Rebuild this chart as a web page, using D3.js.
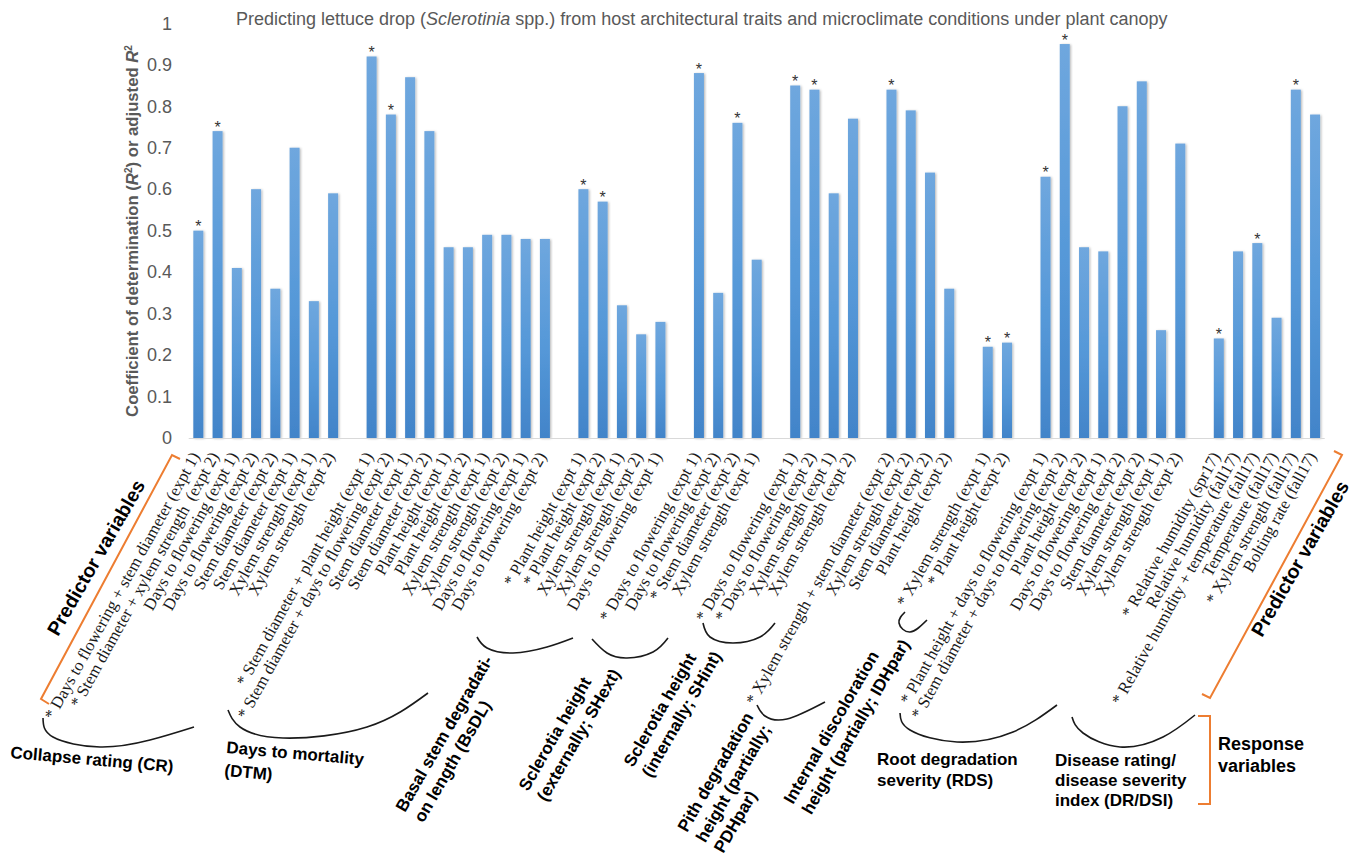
<!DOCTYPE html>
<html>
<head>
<meta charset="utf-8">
<script src="https://cdn.jsdelivr.net/npm/d3@7"></script>
<style>
  body { margin: 0; background: #fff; }
  svg { display: block; }
</style>
</head>
<body>
<svg id="chart" width="1355" height="855"></svg>
<script>
// Predictor variables per model set (a leading "* " marks a significant model)
const predictorSets = [
  ["* Days to flowering + stem diameter (expt 1)", "* Stem diameter + xylem strength  (expt 2)",
   "Days to flowering (expt 1)", "Days to flowering (expt 2)", "Stem diameter (expt 2)",
   "Stem diameter (expt 1)", "Xylem strength (expt 1)", "Xylem strength (expt 2)"],
  ["* Stem diameter + plant height (expt 1)", "* Stem diameter + days to flowering (expt 2)",
   "Stem diameter (expt 1)", "Stem diameter (expt 2)", "Plant height (expt 1)", "Plant height (expt 2)",
   "Xylem strength (expt 1)", "Xylem strength (expt 2)", "Days to flowering (expt 1)", "Days to flowering (expt 2)"],
  ["* Plant height (expt 1)", "* Plant height (expt 2)", "Xylem strength (expt 1)",
   "Xylem strength (expt 2)", "Days to flowering (expt 1)"],
  ["* Days to flowering (expt 1)", "Days to flowering (expt 2)", "* Stem diameter (expt 2)",
   "Xylem strength (expt 1)"],
  ["* Days to flowering (expt 1)", "* Days to flowering (expt 2)", "Xylem strength (expt 1)",
   "Xylem strength (expt 2)"],
  ["* Xylem strength + stem diameter (expt 2)", "Xylem strength (expt 2)", "Stem diameter (expt 2)",
   "Plant height (expt 2)"],
  ["* Xylem strength (expt 1)", "* Plant height (expt 2)"],
  ["* Plant height + days to flowering (expt 1)", "* Stem diameter + days to flowering (expt 2)",
   "Plant height (expt 2)", "Days to flowering (expt 1)", "Days to flowering (expt 2)",
   "Stem diameter (expt 2)", "Xylem strength (expt 1)", "Xylem strength (expt 2)"],
  ["* Relative humidity (spr17)", "Relative humidity (fall17)",
   "* Relative humidity + temperature (fall17)", "Temperature (fall17)",
   "* Xylem strength (fall17)", "Bolting rate (fall17)"]
];

// Coefficient of determination (R² or adjusted R²) per model
const rSquared = [
  [0.50, 0.74, 0.41, 0.60, 0.36, 0.70, 0.33, 0.59],
  [0.92, 0.78, 0.87, 0.74, 0.46, 0.46, 0.49, 0.49, 0.48, 0.48],
  [0.60, 0.57, 0.32, 0.25, 0.28],
  [0.88, 0.35, 0.76, 0.43],
  [0.85, 0.84, 0.59, 0.77],
  [0.84, 0.79, 0.64, 0.36],
  [0.22, 0.23],
  [0.63, 0.95, 0.46, 0.45, 0.80, 0.86, 0.26, 0.71],
  [0.24, 0.45, 0.47, 0.29, 0.84, 0.78]
];

// Response variable names (one or more lines each)
const responseNames = [
  ["Collapse rating (CR)"],
  ["Days to mortality", "(DTM)"],
  ["Basal stem degradati-", "on length (BsDL)"],
  ["Sclerotia height", "(externally; SHext)"],
  ["Sclerotia height", "(internally; SHint)"],
  ["Pith degradation", "height (partially;", "PDHpar)"],
  ["Internal discoloration", "height (partially; IDHpar)"],
  ["Root degradation", "severity (RDS)"],
  ["Disease rating/", "disease severity", "index (DR/DSI)"]
];

const yTickValues = [0, 0.1, 0.2, 0.3, 0.4, 0.5, 0.6, 0.7, 0.8, 0.9, 1];
const yTickLabels = ["0", "0.1", "0.2", "0.3", "0.4", "0.5", "0.6", "0.7", "0.8", "0.9", "1"];

// ---- layout ----
const plot = { left: 188.7, right: 1324.7, top: 23.3, bottom: 438 };
const labelAngle = -61;
const sans = "'Liberation Sans', Arial, sans-serif";
const serif = "'Liberation Serif', 'Times New Roman', serif";

// Build category slots, with one empty slot between model sets
const slots = [];
predictorSets.forEach((set, g) => {
  if (g > 0) slots.push({ key: "gap" + g, gap: true });
  set.forEach((label, i) => {
    slots.push({ key: g + "-" + i, label, value: rSquared[g][i], star: label.startsWith("*") });
  });
});
const bars = slots.filter(s => !s.gap);

const svg = d3.select("#chart");

const x = d3.scaleBand()
  .domain(slots.map(s => s.key))
  .range([plot.left, plot.right])
  .paddingInner(0.48)
  .paddingOuter(0.24);

const y = d3.scaleLinear().domain([0, 1]).range([plot.bottom, plot.top]);

const defs = svg.append("defs");
const grad = defs.append("linearGradient")
  .attr("id", "barFill").attr("x1", 0).attr("y1", 0).attr("x2", 0).attr("y2", 1);
grad.append("stop").attr("offset", "0%").attr("stop-color", "#6fa7de");
grad.append("stop").attr("offset", "55%").attr("stop-color", "#5598d8");
grad.append("stop").attr("offset", "100%").attr("stop-color", "#4284c9");
const shadow = defs.append("filter").attr("id", "barShadow")
  .attr("x", "-30%").attr("y", "-5%").attr("width", "160%").attr("height", "110%");
shadow.append("feDropShadow").attr("dx", 1.2).attr("dy", 0.6)
  .attr("stdDeviation", 0.8).attr("flood-color", "#000").attr("flood-opacity", 0.28);

// Title
svg.append("text")
  .attr("x", 236).attr("y", 25)
  .attr("font-family", sans).attr("font-size", 18).attr("fill", "#595959")
  .call(t => {
    t.append("tspan").text("Predicting lettuce drop (");
    t.append("tspan").attr("font-style", "italic").text("Sclerotinia");
    t.append("tspan").text(" spp.) from host architectural traits and microclimate conditions under plant canopy");
  });

// Y axis
const yAxis = d3.axisLeft(y)
  .tickValues(yTickValues)
  .tickFormat((d, i) => yTickLabels[i])
  .tickSize(0).tickPadding(0);
const yg = svg.append("g").attr("transform", `translate(172,0)`).call(yAxis);
yg.select(".domain").remove();
yg.selectAll("text")
  .attr("font-family", sans).attr("font-size", 18).attr("fill", "#595959");

// Y axis title
svg.append("text")
  .attr("transform", `translate(138,231) rotate(-90)`)
  .attr("text-anchor", "middle")
  .attr("font-family", sans).attr("font-size", 16.7).attr("font-weight", "bold").attr("fill", "#595959")
  .call(t => {
    t.append("tspan").text("Coefficient of determination (");
    t.append("tspan").attr("font-style", "italic").text("R");
    t.append("tspan").attr("font-size", 10).attr("dy", -6).text("2");
    t.append("tspan").attr("dy", 6).text(") or adjusted ");
    t.append("tspan").attr("font-style", "italic").text("R");
    t.append("tspan").attr("font-size", 10).attr("dy", -6).text("2");
  });

// Bars
svg.append("g").selectAll("rect")
  .data(bars).join("rect")
  .attr("x", d => x(d.key))
  .attr("y", d => y(d.value))
  .attr("width", x.bandwidth())
  .attr("height", d => y(0) - y(d.value))
  .attr("fill", "url(#barFill)")
  .attr("filter", "url(#barShadow)");

// Baseline
svg.append("line")
  .attr("x1", plot.left).attr("x2", plot.right)
  .attr("y1", plot.bottom + 0.5).attr("y2", plot.bottom + 0.5)
  .attr("stroke", "#d9d9d9").attr("stroke-width", 1.2);

// Significance stars
svg.append("g").selectAll("text")
  .data(bars.filter(d => d.star)).join("text")
  .attr("x", d => x(d.key) + x.bandwidth() / 2)
  .attr("y", d => y(d.value) + 1.5)
  .attr("text-anchor", "middle")
  .attr("font-family", sans).attr("font-size", 16).attr("fill", "#333")
  .text("*");

// Category labels (rotated, ending under each bar)
svg.append("g").selectAll("text")
  .data(bars).join("text")
  .attr("transform", d => `translate(${x(d.key) + x.bandwidth() / 2 + 2},456) rotate(${labelAngle})`)
  .attr("text-anchor", "end")
  .attr("font-family", serif).attr("font-size", 16.8).attr("fill", "#1a1a1a")
  .attr("xml:space", "preserve")
  .text(d => d.label);

// ---- annotations: braces under predictor labels and response names ----
const braceCurves = [
  [[43, 718], [53, 737], [100, 747], [150, 740], [194, 727]],
  [[228, 710], [240, 727], [283, 738], [367, 727], [428, 693]],
  [[477, 637], [487, 648], [513, 653], [547, 647], [573, 638]],
  [[592, 639], [607, 653], [627, 658], [653, 652], [668, 638]],
  [[703, 623], [710, 637], [733, 643], [760, 637], [775, 623]],
  [[757, 705], [765, 716], [787, 719], [825, 702]],
  [[905, 612], [899, 623], [910, 632], [927, 620]],
  [[900, 713], [910, 730], [957, 742], [1013, 732], [1057, 705]],
  [[1072, 717], [1083, 733], [1120, 747], [1163, 737], [1195, 715]]
];
const braceLine = d3.line().curve(d3.curveNatural);
svg.append("g").selectAll("path")
  .data(braceCurves).join("path")
  .attr("d", braceLine)
  .attr("fill", "none").attr("stroke", "#1a1a1a").attr("stroke-width", 1.6);

// anchor, rotation and line step for each response name
const responsePlacement = [
  { x: 10, y: 758, r: 5, lh: 21 },
  { x: 226, y: 753, r: 5, lh: 23 },
  { x: 405, y: 813, r: -60, lh: 21 },
  { x: 528, y: 792, r: -60, lh: 21 },
  { x: 633, y: 768, r: -60, lh: 21 },
  { x: 687, y: 833, r: -60, lh: 21 },
  { x: 793, y: 805, r: -60, lh: 21 },
  { x: 877, y: 765, r: 0, lh: 21 },
  { x: 1055, y: 766, r: 0, lh: 20 }
];
svg.append("g").selectAll("text")
  .data(responseNames).join("text")
  .attr("transform", (d, i) => {
    const p = responsePlacement[i];
    return `translate(${p.x},${p.y}) rotate(${p.r})`;
  })
  .attr("font-family", sans).attr("font-size", 17).attr("font-weight", "bold").attr("fill", "#000")
  .each(function (lines, i) {
    d3.select(this).selectAll("tspan").data(lines).join("tspan")
      .attr("x", 0).attr("y", (l, k) => k * responsePlacement[i].lh)
      .text(l => l);
  });

// Orange brackets
const orange = "#ed7d31";
const bracketPaths = [
  [[180, 459], [172, 455], [41, 699], [49, 704]],
  [[1334, 451], [1342, 455], [1210, 698], [1202, 694]],
  [[1198, 716], [1210, 716], [1210, 804], [1198, 804]]
];
svg.append("g").selectAll("path")
  .data(bracketPaths).join("path")
  .attr("d", d3.line())
  .attr("fill", "none").attr("stroke", orange).attr("stroke-width", 2);

const keyLabels = [
  { lines: ["Predictor variables"], x: 58, y: 637, r: -60, size: 19.5 },
  { lines: ["Predictor variables"], x: 1262, y: 638, r: -60, size: 19.5 },
  { lines: ["Response", "variables"], x: 1218, y: 750, r: 0, size: 18 }
];
svg.append("g").selectAll("text")
  .data(keyLabels).join("text")
  .attr("transform", d => `translate(${d.x},${d.y}) rotate(${d.r})`)
  .attr("font-family", sans).attr("font-weight", "bold").attr("fill", "#000")
  .attr("font-size", d => d.size)
  .each(function (d) {
    d3.select(this).selectAll("tspan").data(d.lines).join("tspan")
      .attr("x", 0).attr("y", (l, k) => k * 22).text(l => l);
  });
</script>
</body>
</html>
